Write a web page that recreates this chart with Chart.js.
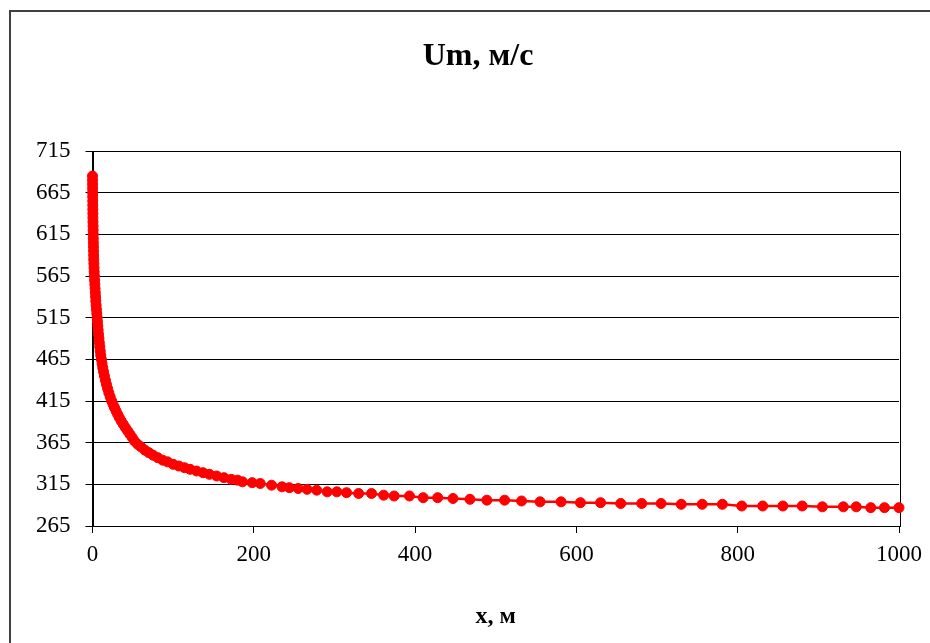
<!DOCTYPE html>
<html>
<head>
<meta charset="utf-8">
<script src="https://cdn.jsdelivr.net/npm/chart.js@4.4.1/dist/chart.umd.min.js"></script>
<style>
    body { margin: 0; background: #fff; }
    #wrap { width: 930px; height: 643px; }
</style>
</head>
<body>
<div id="wrap"><canvas id="umChart" width="930" height="643"></canvas></div>
<script>
// расстояние x, м
const xValues = [
    0, 0.05, 0.1, 0.15, 0.2, 0.25, 0.3, 0.35, 0.4, 0.45, 0.5, 0.6, 0.7, 0.8, 0.9, 1.0, 1.1, 1.2, 1.3, 1.4,
    1.5, 1.7, 1.9, 2.1, 2.3, 2.6, 2.9, 3.2, 3.5, 3.8, 4.1, 4.5, 4.9, 5.3, 5.8,
    6.2, 6.6, 7.0, 7.5, 8.0, 8.5, 9.0, 9.6, 10.2, 11.0,
    11.8, 12.7, 13.7, 14.8, 16.0, 17.3, 18.7, 20.2, 21.9, 23.8,
    25.5, 27.3, 29.2, 31.2, 33.3, 35.6, 38.1, 40.8, 43.6, 46.5, 49.3,
    52, 56, 60, 65, 70, 75, 81, 87, 93, 100, 107, 114, 121, 129, 137, 145, 154, 163, 172, 180, 186,
    198, 208, 222, 235, 244, 255, 266, 278, 291, 303, 315, 330, 346, 361, 374, 393, 410, 428, 447, 468,
    489, 511, 532, 555, 581, 605, 630, 655, 681, 705, 730, 756, 781, 805, 831, 856, 880, 905, 931, 947,
    965, 982, 1000
];

// скорость Um, м/с
const umValues = [
    685, 680, 675, 670, 665, 660, 655, 650, 645, 640, 635, 630, 625, 620, 615, 610, 605, 600, 595, 590,
    585, 580, 575, 570, 565, 560, 555, 550, 545, 540, 535, 530, 525, 520, 515,
    510, 505, 500, 495, 490, 485, 480, 475, 470, 465,
    460, 455, 450, 445, 440, 435, 430, 425, 420, 415,
    411, 407, 403, 399, 395, 391, 387, 383, 379, 375, 371,
    367, 363, 360, 356, 353, 350, 347, 344, 342, 339, 337, 335, 333, 331, 329, 327, 325, 323, 321, 320, 318,
    317, 316, 314, 312, 311, 310, 309, 308, 306, 306, 305, 304, 304, 302, 301, 301, 299, 299, 298, 297,
    296, 296, 295, 294, 294, 293, 293, 292, 292, 292, 291, 291, 291, 289, 289, 289, 289, 288, 288, 288,
    287, 287, 287
];

const xTicks = [0, 200, 400, 600, 800, 1000];
const yTicks = [265, 315, 365, 415, 465, 515, 565, 615, 665, 715];

const chartTitle = 'Um, м/с';
const xTitle = 'x, м';

const points = xValues.map((x, i) => ({ x: x, y: umValues[i] }));

const serif = '"Liberation Serif", "Times New Roman", serif';

// рамка диаграммы, область построения и заголовок
const framePlugin = {
    id: 'frame',
    beforeDraw(chart) {
        const ctx = chart.ctx;
        ctx.save();
        ctx.fillStyle = '#fff';
        ctx.fillRect(0, 0, chart.width, chart.height);
        ctx.strokeStyle = '#404040';
        ctx.lineWidth = 2;
        ctx.strokeRect(10, 11, 1000, 1000);
        // заголовок по центру всей рамки
        ctx.fillStyle = '#000';
        ctx.font = 'bold 32px ' + serif;
        ctx.textAlign = 'center';
        ctx.textBaseline = 'middle';
        ctx.fillText(chartTitle, 478, 57);
        ctx.restore();
    },
    beforeDatasetsDraw(chart) {
        const a = chart.chartArea;
        const ctx = chart.ctx;
        ctx.save();
        ctx.strokeStyle = '#000';
        ctx.lineWidth = 1;
        ctx.strokeRect(Math.round(a.left) + 0.5, Math.round(a.top) + 0.5,
            Math.round(a.right - a.left), Math.round(a.bottom - a.top));
        ctx.restore();
    }
};

const config = {
    type: 'scatter',
    data: {
        datasets: [{
            label: 'Um',
            data: points,
            showLine: true,
            borderColor: '#ff0000',
            backgroundColor: '#ff0000',
            borderWidth: 2.5,
            pointRadius: 5,
            pointBorderWidth: 1,
            pointBorderColor: '#ff0000',
            pointBackgroundColor: '#ff0000',
            tension: 0,
            clip: 12
        }]
    },
    options: {
        responsive: false,
        animation: false,
        devicePixelRatio: 1,
        layout: {
            padding: { left: 26, right: 30, top: 151, bottom: 0 }
        },
        plugins: {
            legend: { display: false },
            tooltip: { enabled: false },
            title: { display: false }
        },
        scales: {
            x: {
                type: 'linear',
                min: 0,
                max: 1000,
                afterBuildTicks: (scale) => { scale.ticks = xTicks.map(v => ({ value: v })); },
                afterFit: (scale) => { scale.height = 117; },
                border: { color: '#000', width: 1 },
                grid: {
                    drawOnChartArea: false,
                    color: '#000',
                    tickColor: '#000',
                    tickLength: 7
                },
                ticks: {
                    color: '#000',
                    padding: 8,
                    maxRotation: 0,
                    font: { family: serif, size: 23 },
                    callback: (value) => String(value)
                },
                title: {
                    display: true,
                    text: xTitle,
                    color: '#000',
                    font: { family: serif, size: 24, weight: 'bold' },
                    padding: { top: 0, bottom: 12 }
                }
            },
            y: {
                min: 265,
                max: 715,
                afterBuildTicks: (scale) => { scale.ticks = yTicks.map(v => ({ value: v })); },
                afterFit: (scale) => { scale.width = 66.5; },
                border: { color: '#000', width: 1 },
                grid: {
                    color: '#000',
                    tickColor: '#000',
                    tickLength: 7,
                    lineWidth: 1
                },
                ticks: {
                    color: '#000',
                    padding: 15,
                    font: { family: serif, size: 23 },
                    callback: (value) => String(value)
                }
            }
        }
    },
    plugins: [framePlugin]
};

const ctx = document.getElementById('umChart').getContext('2d');
const umChart = new Chart(ctx, config);
</script>
</body>
</html>
